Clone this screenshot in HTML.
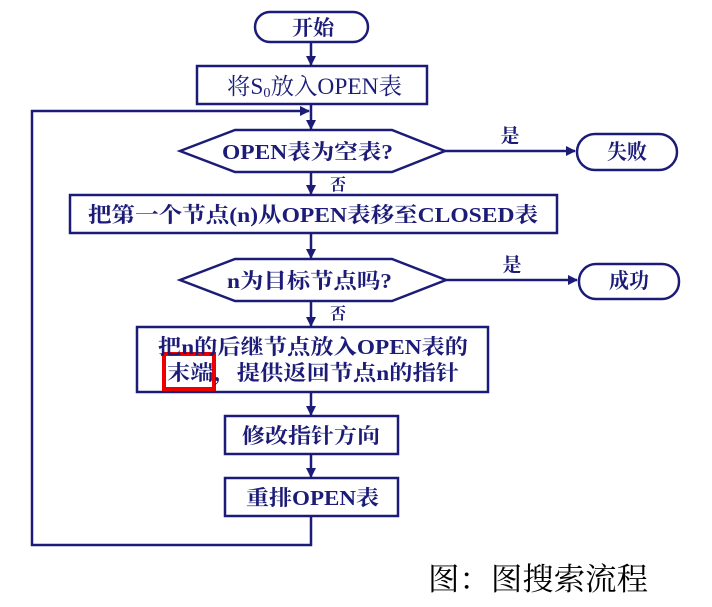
<!DOCTYPE html>
<html><head><meta charset="utf-8"><style>
body{margin:0;background:#fff;width:712px;height:607px;overflow:hidden}
svg{display:block}
text{font-family:"Liberation Serif","Noto Serif CJK SC",serif;font-weight:bold;fill:#1c1c78;font-size:21px}
</style></head><body>
<svg width="712" height="607" viewBox="0 0 712 607">
<defs><marker id="a" markerWidth="10" markerHeight="10" refX="9" refY="5" orient="auto" markerUnits="userSpaceOnUse"><path d="M0,0 L10,5 L0,10 Z" fill="#1c1c78"/></marker></defs>
<g stroke="#1c1c78" stroke-width="2.5" fill="none">
<rect x="255" y="12" width="113" height="30" rx="15"/>
<rect x="197" y="66" width="230" height="38"/>
<polygon points="180,151 235,130 392,130 445,151 392,172 235,172"/>
<rect x="577" y="134" width="100" height="36" rx="18"/>
<rect x="70" y="195" width="487" height="38"/>
<polygon points="180,280 235,259 392,259 446,280 392,301 235,301"/>
<rect x="579" y="264" width="100" height="35" rx="17"/>
<rect x="137" y="327" width="351" height="65"/>
<rect x="225" y="416" width="173" height="38"/>
<rect x="225" y="478" width="173" height="38"/>
<line x1="311" y1="42" x2="311" y2="65" marker-end="url(#a)"/>
<line x1="311" y1="104" x2="311" y2="129" marker-end="url(#a)"/>
<line x1="311" y1="172" x2="311" y2="194" marker-end="url(#a)"/>
<line x1="311" y1="233" x2="311" y2="258" marker-end="url(#a)"/>
<line x1="311" y1="301" x2="311" y2="326" marker-end="url(#a)"/>
<line x1="311" y1="392" x2="311" y2="415" marker-end="url(#a)"/>
<line x1="311" y1="454" x2="311" y2="477" marker-end="url(#a)"/>
<line x1="445" y1="151" x2="575" y2="151" marker-end="url(#a)"/>
<line x1="446" y1="280" x2="577" y2="280" marker-end="url(#a)"/>
<polyline points="311,516 311,545 32,545 32,111 309,111" marker-end="url(#a)"/>
</g>
<rect x="164" y="354" width="50" height="35" stroke="#e00" stroke-width="4" fill="none"/>
<text x="292" y="35" textLength="42" lengthAdjust="spacingAndGlyphs">开始</text>
<text x="227" y="94" textLength="175" lengthAdjust="spacingAndGlyphs" style="font-weight:normal;font-size:23px">将S<tspan font-size="14" dy="3">0</tspan><tspan dy="-3">放入OPEN表</tspan></text>
<text x="222" y="159" textLength="171" lengthAdjust="spacingAndGlyphs">OPEN表为空表?</text>
<text x="510" y="142" text-anchor="middle" style="font-size:19px">是</text>
<text x="607" y="159" textLength="40" lengthAdjust="spacingAndGlyphs">失败</text>
<text x="338" y="190" text-anchor="middle" style="font-size:16px">否</text>
<text x="88" y="222" textLength="450" lengthAdjust="spacingAndGlyphs">把第一个节点(n)从OPEN表移至CLOSED表</text>
<text x="227" y="288" textLength="165" lengthAdjust="spacingAndGlyphs">n为目标节点吗?</text>
<text x="512" y="271" text-anchor="middle" style="font-size:19px">是</text>
<text x="609" y="288" textLength="40" lengthAdjust="spacingAndGlyphs">成功</text>
<text x="338" y="319" text-anchor="middle" style="font-size:16px">否</text>
<text x="158" y="354" textLength="310" lengthAdjust="spacingAndGlyphs">把n的后继节点放入OPEN表的</text>
<text x="167" y="380" textLength="292" lengthAdjust="spacingAndGlyphs">末端，提供返回节点n的指针</text>
<text x="242" y="443" textLength="138" lengthAdjust="spacingAndGlyphs">修改指针方向</text>
<text x="246" y="505" textLength="133" lengthAdjust="spacingAndGlyphs">重排OPEN表</text>
<text x="428" y="590" textLength="220" lengthAdjust="spacingAndGlyphs" style="font-weight:normal;font-size:31px;fill:#000">图：图搜索流程</text>
</svg>
</body></html>
